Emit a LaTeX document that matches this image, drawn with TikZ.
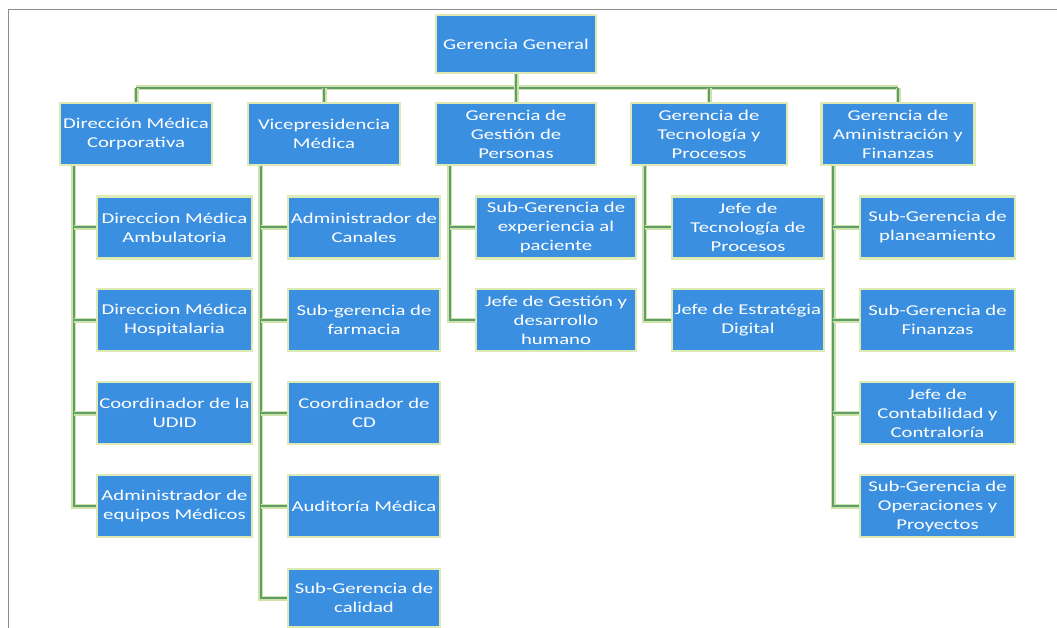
\documentclass[tikz,border=0pt]{standalone}
\usepackage{fontspec}
\setmainfont{Carlito}[FakeStretch=1.38]
\usetikzlibrary{backgrounds}
\definecolor{boxblue}{HTML}{3B8FE0}
\definecolor{boxrim}{HTML}{DDEAB3}
\definecolor{linecore}{HTML}{5E9D6C}
\definecolor{lineglow}{HTML}{CFE3A8}
\definecolor{framegray}{HTML}{8C8C8C}
\tikzset{
  unit/.style={draw=boxrim, line width=2.5pt, fill=boxblue, text=white, align=center,
    inner sep=0pt, font=\fontsize{15}{19}\selectfont},
  link/.style={draw=linecore, line width=2pt, preaction={draw=lineglow, line width=5pt}},
  frameline/.style={draw=framegray, line width=1pt}
}
\begin{document}
\begin{tikzpicture}[x=1pt,y=-1pt]
\useasboundingbox (0,0) rectangle (1057,628);
\draw[frameline] (1057,10) -- (8,10) -- (8,628);
% top
\node[unit, minimum width=160pt, minimum height=58pt] (gg) at (516,44) {Gerencia General};
% level 1
\node[unit, minimum width=152pt, minimum height=62pt] (a) at (136,134) {Dirección Médica\\Corporativa};
\node[unit, minimum width=152pt, minimum height=62pt] (b) at (324,134) {Vicepresidencia\\Médica};
\node[unit, minimum width=160pt, minimum height=62pt] (c) at (516,134) {Gerencia de\\Gestión de\\Personas};
\node[unit, minimum width=156pt, minimum height=62pt] (d) at (709,134) {Gerencia de\\Tecnología y\\Procesos};
\node[unit, minimum width=153pt, minimum height=62pt] (e) at (898,134) {Gerencia de\\Aministración y\\Finanzas};
% column a
\node[unit, minimum width=155pt, minimum height=62pt] (a1) at (174.5,227.5) {Direccion Médica\\Ambulatoria};
\node[unit, minimum width=155pt, minimum height=62pt] (a2) at (174.5,320) {Direccion Médica\\Hospitalaria};
\node[unit, minimum width=155pt, minimum height=62pt] (a3) at (174.5,413) {Coordinador de la\\UDID};
\node[unit, minimum width=155pt, minimum height=62pt] (a4) at (174.5,506) {Administrador de\\equipos Médicos};
% column b
\node[unit, minimum width=152pt, minimum height=62pt] (b1) at (364,227.5) {Administrador de\\Canales};
\node[unit, minimum width=152pt, minimum height=62pt] (b2) at (364,320) {Sub-gerencia de\\farmacia};
\node[unit, minimum width=152pt, minimum height=62pt] (b3) at (364,413) {Coordinador de\\CD};
\node[unit, minimum width=152pt, minimum height=62pt] (b4) at (364,506) {Auditoría Médica};
\node[unit, minimum width=152pt, minimum height=58pt] (b5) at (364,598) {Sub-Gerencia de\\calidad};
% column c
\node[unit, minimum width=160pt, minimum height=62pt] (c1) at (556,227.5) {Sub-Gerencia de\\experiencia al\\paciente};
\node[unit, minimum width=160pt, minimum height=62pt] (c2) at (556,320) {Jefe de Gestión y\\desarrollo\\humano};
% column d
\node[unit, minimum width=152pt, minimum height=62pt] (d1) at (748,227.5) {Jefe de\\Tecnología de\\Procesos};
\node[unit, minimum width=152pt, minimum height=62pt] (d2) at (748,320) {Jefe de Estratégia\\Digital};
% column e
\node[unit, minimum width=155pt, minimum height=62pt] (e1) at (937.5,227.5) {Sub-Gerencia de\\planeamiento};
\node[unit, minimum width=155pt, minimum height=62pt] (e2) at (937.5,320) {Sub-Gerencia de\\Finanzas};
\node[unit, minimum width=155pt, minimum height=62pt] (e3) at (937.5,413) {Jefe de\\Contabilidad y\\Contraloría};
\node[unit, minimum width=155pt, minimum height=62pt] (e4) at (937.5,506) {Sub-Gerencia de\\Operaciones y\\Proyectos};
% connectors
\coordinate (busL) at (136,88);
\coordinate (busR) at (898,88);
\coordinate (sa) at ([xshift=15pt]a.south west);
\coordinate (sb) at ([xshift=14pt]b.south west);
\coordinate (sc) at ([xshift=15pt]c.south west);
\coordinate (sd) at ([xshift=15pt]d.south west);
\coordinate (se) at ([xshift=13pt]e.south west);
\begin{scope}[on background layer]
  \draw[link] (busL) -- (busR);
  \draw[link] (gg.south) -- (gg.south |- busL);
  \foreach \n in {a,b,c,d,e} \draw[link] (\n.north |- busL) -- (\n.north);
  \draw[link] (sa) -- (sa |- a4.west) -- (a4.west);
  \foreach \n in {a1,a2,a3} \draw[link] (sa |- \n.west) -- (\n.west);
  \draw[link] (sb) -- (sb |- b5.west) -- (b5.west);
  \foreach \n in {b1,b2,b3,b4} \draw[link] (sb |- \n.west) -- (\n.west);
  \draw[link] (sc) -- (sc |- c2.west) -- (c2.west);
  \draw[link] (sc |- c1.west) -- (c1.west);
  \draw[link] (sd) -- (sd |- d2.west) -- (d2.west);
  \draw[link] (sd |- d1.west) -- (d1.west);
  \draw[link] (se) -- (se |- e4.west) -- (e4.west);
  \foreach \n in {e1,e2,e3} \draw[link] (se |- \n.west) -- (\n.west);
\end{scope}
\end{tikzpicture}
\end{document}
